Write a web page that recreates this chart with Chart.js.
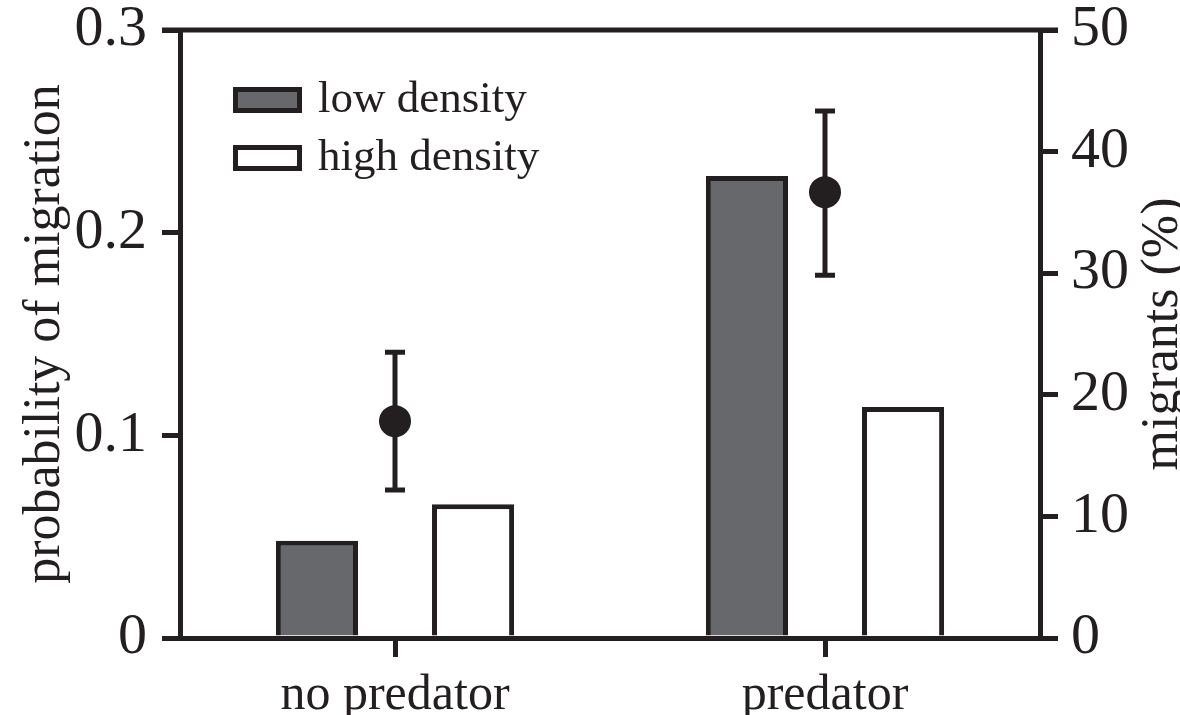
<!DOCTYPE html>
<html>
<head>
<meta charset="utf-8">
<script src="https://cdn.jsdelivr.net/npm/chart.js@4.4.1/dist/chart.umd.min.js"></script>
<style>
  html, body { margin: 0; padding: 0; background: #fff; }
  #chart { display: block; }
</style>
</head>
<body>
<canvas id="chart" width="1180" height="715"></canvas>
<script>
const categories = ['no predator', 'predator'];
const lowDensity = [8, 38];
const highDensity = [11, 19];
const migrationProb = [0.107, 0.22];
const probUpper = [0.141, 0.26];
const probLower = [0.073, 0.179];
const leftTicks = ['0', '0.1', '0.2', '0.3'];
const rightTicks = ['0', '10', '20', '30', '40', '50'];

const INK = '#231f20';
const GREY = '#67686b';
const SERIF = "'Liberation Serif', 'Times New Roman', serif";

// error bars for the probability points, plus the top frame line
const errorBars = {
    id: 'errorBars',
    beforeDatasetsDraw(chart) {
        const { ctx, scales: { x, y }, chartArea } = chart;
        ctx.save();
        ctx.strokeStyle = INK;
        ctx.lineWidth = 5;
        ctx.beginPath();
        ctx.moveTo(chartArea.left - 18, chartArea.top);
        ctx.lineTo(chartArea.right + 18, chartArea.top);
        ctx.stroke();
        migrationProb.forEach((v, i) => {
            const px = x.getPixelForValue(i);
            const top = y.getPixelForValue(probUpper[i]);
            const bot = y.getPixelForValue(probLower[i]);
            ctx.beginPath();
            ctx.moveTo(px, top);
            ctx.lineTo(px, bot);
            ctx.moveTo(px - 10, top);
            ctx.lineTo(px + 10, top);
            ctx.moveTo(px - 10, bot);
            ctx.lineTo(px + 10, bot);
            ctx.stroke();
        });
        ctx.restore();
    }
};

const legendAndTitle = {
    id: 'legendAndTitle',
    afterDraw(chart) {
        const { ctx, chartArea } = chart;
        ctx.save();
        const items = [
            { label: 'low density', fill: GREY, y: 100 },
            { label: 'high density', fill: '#ffffff', y: 158 }
        ];
        items.forEach(it => {
            ctx.fillStyle = it.fill;
            ctx.strokeStyle = INK;
            ctx.lineWidth = 5;
            ctx.fillRect(235.5, it.y - 10.5, 64, 21);
            ctx.strokeRect(235.5, it.y - 10.5, 64, 21);
            ctx.fillStyle = INK;
            ctx.font = `45px ${SERIF}`;
            ctx.textBaseline = 'middle';
            ctx.textAlign = 'left';
            ctx.fillText(it.label, 318, it.y);
        });

        // right axis title reads bottom-to-top
        ctx.translate(1163, (chartArea.top + chartArea.bottom) / 2);
        ctx.rotate(-Math.PI / 2);
        ctx.font = `52px ${SERIF}`;
        ctx.textAlign = 'center';
        ctx.textBaseline = 'middle';
        ctx.fillText('migrants (%)', 0, 0);
        ctx.restore();
    }
};

const axisStyle = (tickLength) => ({
    drawOnChartArea: false,
    drawTicks: true,
    tickLength,
    lineWidth: 5,
    color: INK
});

const fixY = (w) => s => {
    s.width = w;
    s.paddingTop = 0;
    s.paddingBottom = 0;
};

new Chart(document.getElementById('chart'), {
    type: 'bar',
    data: {
        labels: categories,
        datasets: [
            {
                type: 'line',
                label: 'probability of migration',
                data: migrationProb,
                yAxisID: 'y',
                showLine: false,
                pointRadius: 16,
                pointBackgroundColor: INK,
                pointBorderWidth: 0
            },
            {
                label: 'low density',
                data: lowDensity,
                yAxisID: 'y2',
                backgroundColor: GREY,
                borderColor: INK,
                borderWidth: 5,
                categoryPercentage: 0.726,
                barPercentage: 0.526
            },
            {
                label: 'high density',
                data: highDensity,
                yAxisID: 'y2',
                backgroundColor: '#ffffff',
                borderColor: INK,
                borderWidth: 5,
                categoryPercentage: 0.726,
                barPercentage: 0.526
            }
        ]
    },
    options: {
        responsive: false,
        animation: false,
        layout: { padding: { top: 30, left: 0, right: 0, bottom: 0 } },
        plugins: {
            legend: { display: false },
            tooltip: { enabled: false }
        },
        scales: {
            x: {
                type: 'category',
                offset: true,
                grid: { ...axisStyle(19), offset: false },
                border: { display: true, width: 5, color: INK },
                ticks: { color: INK, font: { family: SERIF, size: 50 }, padding: 9, maxRotation: 0 },
                afterFit: s => {
                    s.height = 77;
                    s.paddingLeft = 0;
                    s.paddingRight = 0;
                }
            },
            y: {
                position: 'left',
                min: 0,
                max: 0.3,
                ticks: {
                    stepSize: 0.1,
                    color: INK,
                    font: { family: SERIF, size: 58 },
                    padding: 15,
                    callback: (v, i) => leftTicks[i]
                },
                grid: axisStyle(18),
                border: { display: true, width: 5, color: INK },
                title: {
                    display: true,
                    text: 'probability of migration',
                    color: INK,
                    font: { family: SERIF, size: 52 },
                    padding: { top: 14, bottom: 0 }
                },
                afterFit: fixY(180)
            },
            y2: {
                position: 'right',
                min: 0,
                max: 50,
                ticks: {
                    stepSize: 10,
                    color: INK,
                    font: { family: SERIF, size: 58 },
                    padding: 13,
                    callback: (v, i) => rightTicks[i]
                },
                grid: axisStyle(18),
                border: { display: true, width: 5, color: INK },
                afterFit: fixY(140)
            }
        }
    },
    plugins: [errorBars, legendAndTitle]
});
</script>
</body>
</html>
